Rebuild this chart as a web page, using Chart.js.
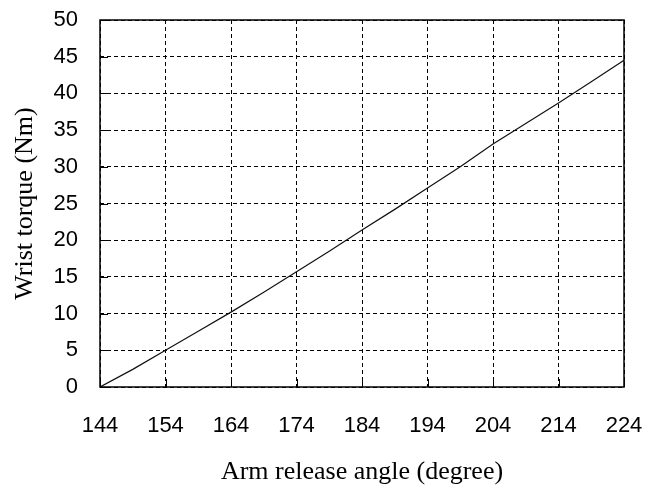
<!DOCTYPE html>
<html>
<head>
<meta charset="utf-8">
<script src="https://cdn.jsdelivr.net/npm/chart.js@4.4.1/dist/chart.umd.min.js"></script>
<style>
    html, body { margin: 0; padding: 0; background: #fff; }
    #wrap { width: 646px; height: 488px; }
</style>
</head>
<body>
<div id="wrap"><canvas id="torqueChart" width="646" height="488"></canvas></div>
<script>
    // values
    const angles = [144, 149, 154, 159, 164, 169, 174, 179, 184, 189, 194, 199, 204, 209, 214, 219, 224];
    const torque = [0, 2.4, 5.0, 7.6, 10.2, 12.9, 15.7, 18.5, 21.4, 24.2, 27.1, 30.0, 33.1, 35.9, 38.7, 41.6, 44.5];
    const xTicks = [144, 154, 164, 174, 184, 194, 204, 214, 224];
    const yTicks = [0, 5, 10, 15, 20, 25, 30, 35, 40, 45, 50];

    const tickFont = { family: 'Liberation Sans', size: 22 };
    const titleFont = { family: 'Liberation Serif', size: 26 };

    // frame round the plot plus short solid inner ticks
    const frame = {
        id: 'frame',
        afterDraw(chart) {
            const ctx = chart.ctx;
            const a = chart.chartArea;
            const xs = chart.scales.x, ys = chart.scales.y;
            ctx.save();
            ctx.strokeStyle = '#000';
            ctx.lineWidth = 1.5;
            ctx.setLineDash([]);
            ctx.strokeRect(a.left, a.top, a.right - a.left, a.bottom - a.top);
            ctx.lineWidth = 1;
            ctx.beginPath();
            xTicks.forEach(v => {
                const px = Math.round(xs.getPixelForValue(v)) + 0.5;
                ctx.moveTo(px, a.bottom);
                ctx.lineTo(px, a.bottom - 8);
            });
            yTicks.forEach(v => {
                const py = Math.round(ys.getPixelForValue(v)) + 0.5;
                ctx.moveTo(a.left, py);
                ctx.lineTo(a.left + 8, py);
            });
            ctx.stroke();
            ctx.restore();
        }
    };

    new Chart(document.getElementById('torqueChart'), {
        type: 'line',
        data: {
            labels: angles,
            datasets: [{
                data: angles.map((a, i) => ({ x: a, y: torque[i] })),
                borderColor: '#111',
                borderWidth: 1.2,
                pointRadius: 0,
                tension: 0,
                fill: false
            }]
        },
        options: {
            responsive: false,
            animation: false,
            devicePixelRatio: 1,
            layout: { padding: { top: 20, right: 22, left: 0, bottom: 0 } },
            plugins: {
                legend: { display: false },
                tooltip: { enabled: false }
            },
            scales: {
                x: {
                    type: 'linear',
                    min: 144,
                    max: 224,
                    afterBuildTicks: s => { s.ticks = xTicks.map(v => ({ value: v })); },
                    afterFit: s => {
                        s.height = 101;
                        s.paddingLeft = 0;
                        s.paddingRight = 0;
                    },
                    grid: { color: '#000', lineWidth: 1, drawTicks: false },
                    border: { display: false, dash: [4, 3] },
                    ticks: { color: '#000', font: tickFont, padding: 26, maxRotation: 0 },
                    title: {
                        display: true,
                        text: 'Arm release angle (degree)',
                        color: '#000',
                        font: titleFont,
                        padding: { top: 0, bottom: 0 }
                    }
                },
                y: {
                    min: 0,
                    max: 50,
                    afterBuildTicks: s => { s.ticks = yTicks.map(v => ({ value: v })); },
                    afterFit: s => {
                        s.width = 100;
                        s.paddingTop = 0;
                        s.paddingBottom = 0;
                    },
                    grid: { color: '#000', lineWidth: 1, drawTicks: false },
                    border: { display: false, dash: [4, 3] },
                    ticks: { color: '#000', font: tickFont, padding: 22 },
                    title: {
                        display: true,
                        text: 'Wrist torque (Nm)',
                        color: '#000',
                        font: titleFont,
                        padding: { top: 10, bottom: 0 }
                    }
                }
            }
        },
        plugins: [frame]
    });
</script>
</body>
</html>
